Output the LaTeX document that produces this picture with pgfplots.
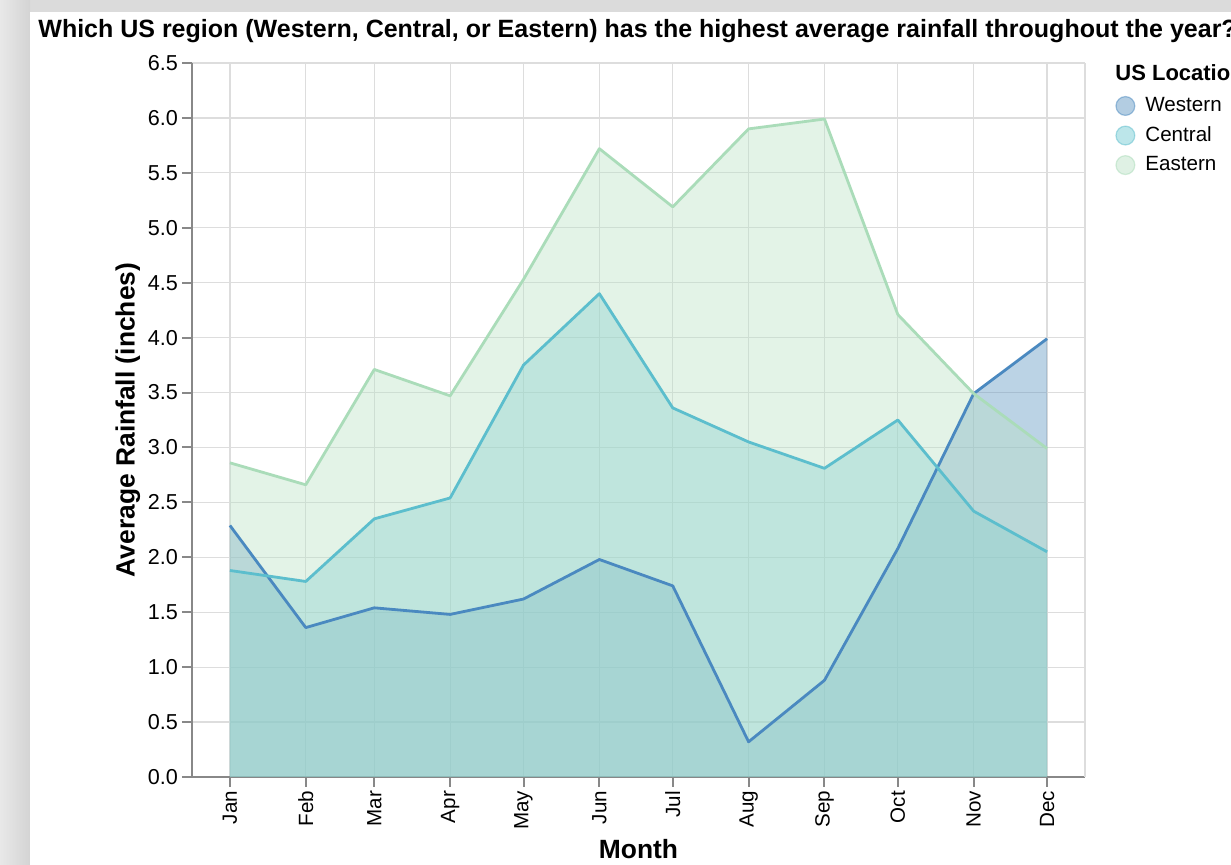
\documentclass[border=0pt]{standalone}
\usepackage{pgfplots}
\pgfplotsset{compat=1.18}
\usepackage{pgfplotstable}
\usepackage{fontspec}
\setmainfont{Liberation Sans}
\definecolor{wcol}{HTML}{5791C0}
\definecolor{ccol}{HTML}{6CC8D2}
\definecolor{ecol}{HTML}{B9E1C5}
\definecolor{wline}{HTML}{4A89C0}
\definecolor{cline}{HTML}{5CBECD}
\definecolor{eline}{HTML}{AADCB9}
\definecolor{gridc}{HTML}{DDDDDD}
\definecolor{axc}{HTML}{888888}
\pgfplotstableread{
day W C E
0 2.29 1.88 2.86
31 1.36 1.78 2.66
59 1.54 2.35 3.71
90 1.48 2.54 3.47
120 1.62 3.75 4.53
151 1.98 4.40 5.72
181 1.74 3.36 5.19
212 0.32 3.05 5.90
243 0.88 2.81 5.99
273 2.08 3.25 4.21
304 3.49 2.42 3.49
334 3.99 2.05 2.99
}\rain
\begin{document}
\begin{tikzpicture}[x=1pt,y=1pt]
\clip (0,0) rectangle (615.5,432.5);
\fill[black!14] (0,0) rectangle (615.5,432.5);
\shade[left color=black!9, right color=black!17] (0,0) rectangle (15,432.5);
\fill[white] (15,0) rectangle (640,426.5);
\node[anchor=base west, font=\bfseries\fontsize{12.5}{15}\selectfont, inner sep=0pt] at (19,413.5) {Which US region (Western, Central, or Eastern) has the highest average rainfall throughout the year?};
\begin{axis}[
  at={(96pt,44pt)}, anchor=south west,
  width=446.5pt, height=357pt, scale only axis,
  xmin=-15.5, xmax=349.5, ymin=0, ymax=6.5,
  axis x line*=bottom, axis y line*=left,
  axis line style={axc, line width=1pt},
  tick style={axc, line width=1pt},
  tick align=outside, major tick length=5pt,
  grid=major, grid style={gridc, line width=0.6pt},
  xtick={0,31,59,90,120,151,181,212,243,273,304,334},
  xticklabels={Jan,Feb,Mar,Apr,May,Jun,Jul,Aug,Sep,Oct,Nov,Dec},
  xticklabel style={rotate=90, anchor=east, xshift=1.5pt, font=\fontsize{10.3}{12}\selectfont},
  extra x ticks={349.5}, extra x tick labels={},
  extra x tick style={major tick length=0pt, grid=major},
  ytick={0,0.5,...,6.5},
  yticklabel style={xshift=1.5pt, font=\fontsize{10.8}{12}\selectfont, /pgf/number format/.cd, fixed, fixed zerofill, precision=1, assume math mode=true},
  every axis y label/.style={at={(axis description cs:-0.0717,0.5)}, rotate=90, anchor=center},
  every axis x label/.style={at={(axis description cs:0.5,-0.1008)}, anchor=center},
  ylabel={\bfseries\fontsize{13.2}{15}\selectfont Average Rainfall (inches)},
  xlabel={\bfseries\fontsize{13.2}{15}\selectfont Month},
  legend style={at={(axis description cs:1,1)}, anchor=north west, xshift=15pt, yshift=-15pt,
    draw=none, fill=none, font=\fontsize{10.3}{12}\selectfont, row sep=2pt, inner sep=0pt,
    nodes={inner xsep=5pt}},
  legend cell align=left,
]
\addplot[fill=wcol, fill opacity=0.4, draw=none,
  legend image code/.code={\draw[fill=wcol, fill opacity=0.45, draw=wline, draw opacity=0.5, line width=0.6pt] (0pt,0pt) circle (4.7pt);}]
  table[x=day, y=W] {\rain} \closedcycle;
\addlegendentry{Western}
\addplot[fill=ccol, fill opacity=0.4, draw=none,
  legend image code/.code={\draw[fill=ccol, fill opacity=0.45, draw=cline, draw opacity=0.5, line width=0.6pt] (0pt,0pt) circle (4.7pt);}]
  table[x=day, y=C] {\rain} \closedcycle;
\addlegendentry{Central}
\addplot[fill=ecol, fill opacity=0.4, draw=none,
  legend image code/.code={\draw[fill=ecol, fill opacity=0.45, draw=eline, draw opacity=0.5, line width=0.6pt] (0pt,0pt) circle (4.7pt);}]
  table[x=day, y=E] {\rain} \closedcycle;
\addlegendentry{Eastern}
\addplot[wline, line width=1.4pt, line join=round, forget plot] table[x=day, y=W] {\rain};
\addplot[cline, line width=1.4pt, line join=round, forget plot] table[x=day, y=C] {\rain};
\addplot[eline, line width=1.4pt, line join=round, forget plot] table[x=day, y=E] {\rain};
\end{axis}
\node[anchor=west, font=\bfseries\fontsize{11}{13}\selectfont, inner sep=0pt] at (557.5,396) {US Location};
\end{tikzpicture}
\end{document}
